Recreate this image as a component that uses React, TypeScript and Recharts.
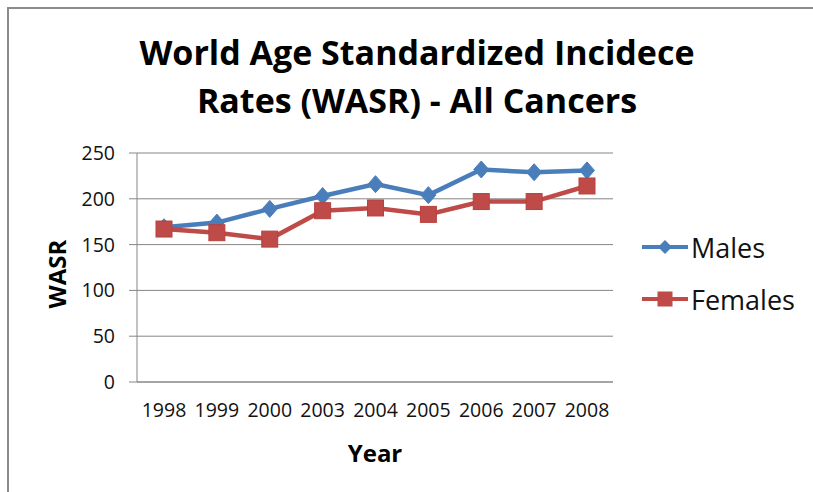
import { LineChart, Line, XAxis, YAxis, CartesianGrid, Legend } from 'recharts';

const years = ['1998', '1999', '2000', '2003', '2004', '2005', '2006', '2007', '2008'];
const males = [169, 174, 189, 203, 216, 204, 232, 229, 231];
const females = [167, 163, 156, 187, 190, 183, 197, 197, 214];
const yTicks = [0, 50, 100, 150, 200, 250];

const BLUE = '#4a7ebb';
const RED = '#be4b48';
const GRID = '#868686';
const FONT = "'Open Sans', sans-serif";

const data = years.map((year, i) => ({ year, males: males[i], females: females[i] }));

// Excel style markers
function Diamond(props: any) {
  const { cx, cy } = props;
  if (cx == null || cy == null) return null;
  return <polygon points={`${cx},${cy - 8.5} ${cx + 7.5},${cy} ${cx},${cy + 8.5} ${cx - 7.5},${cy}`} fill={BLUE} stroke={BLUE} />;
}

function Square(props: any) {
  const { cx, cy } = props;
  if (cx == null || cy == null) return null;
  return <rect x={cx - 8} y={cy - 8} width={16} height={16} fill={RED} stroke="#b8413e" strokeWidth={1} />;
}

function LegendContent() {
  const items = [
    { name: 'Males', color: BLUE, marker: 'diamond' },
    { name: 'Females', color: RED, marker: 'square' },
  ];
  return (
    <div style={{ fontFamily: FONT }}>
      {items.map((it) => (
        <div key={it.name} style={{ display: 'flex', alignItems: 'center', height: 52 }}>
          <svg width={48} height={20}>
            <line x1={1} y1={10} x2={47} y2={10} stroke={it.color} strokeWidth={4} />
            {it.marker === 'diamond'
              ? <polygon points="24,3 31,10 24,17 17,10" fill={it.color} />
              : <rect x={16.5} y={2.5} width={15} height={15} fill={it.color} />}
          </svg>
          <span style={{ fontSize: 27, color: '#111', marginLeft: 2 }}>{it.name}</span>
        </div>
      ))}
    </div>
  );
}

export default function App() {
  return (
    <div style={{ position: 'absolute', left: 0, top: 0, width: 813, height: 492, background: '#fff', overflow: 'hidden', fontFamily: FONT }}>
      <div style={{ position: 'absolute', left: 7, top: 7, width: 820, height: 500, border: '2px solid #8c8c8c', boxSizing: 'border-box' }} />
      <div style={{ position: 'absolute', left: 117, width: 600, top: 28, textAlign: 'center', fontWeight: 700, fontSize: 34, lineHeight: '48px', color: '#000' }}>
        World Age Standardized Incidece<br />Rates (WASR) - All Cancers
      </div>
      <div style={{ position: 'absolute', left: 56, top: 274, transform: 'translate(-50%, -50%) rotate(-90deg)', fontWeight: 700, fontSize: 24, color: '#000', whiteSpace: 'nowrap' }}>
        WASR
      </div>
      <div style={{ position: 'absolute', left: 375, top: 452, transform: 'translate(-50%, -50%)', fontWeight: 700, fontSize: 24, color: '#000' }}>
        Year
      </div>
      <LineChart width={813} height={492} data={data} margin={{ top: 153, right: 30, bottom: 50, left: 77 }}>
        <CartesianGrid vertical={false} stroke={GRID} strokeWidth={1} />
        <XAxis
          dataKey="year"
          interval={0}
          padding={{ left: 27, right: 26 }}
          tickLine={false}
          tickSize={0}
          tickMargin={21}
          height={60}
          stroke={GRID}
          tick={{ fill: '#111', fontSize: 19.5, fontFamily: FONT }}
        />
        <YAxis
          domain={[0, 250]}
          ticks={yTicks}
          width={60}
          tickSize={8}
          tickMargin={14}
          stroke={GRID}
          tick={{ fill: '#111', fontSize: 19.5, fontFamily: FONT }}
        />
        <Legend
          layout="vertical"
          align="right"
          verticalAlign="top"
          wrapperStyle={{ left: 641, top: 221, width: 170 }}
          content={<LegendContent />}
        />
        <Line dataKey="males" name="Males" stroke={BLUE} strokeWidth={4.5} dot={<Diamond />} isAnimationActive={false} />
        <Line dataKey="females" name="Females" stroke={RED} strokeWidth={4.5} dot={<Square />} isAnimationActive={false} />
      </LineChart>
    </div>
  );
}
